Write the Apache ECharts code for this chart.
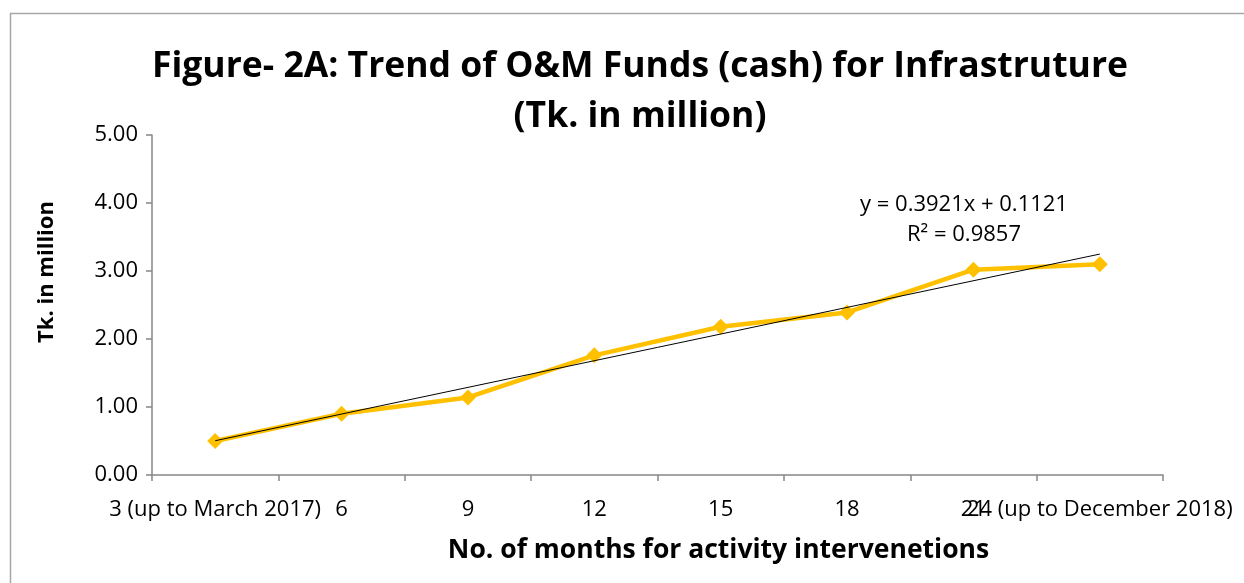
<!DOCTYPE html>
<html>
<head>
<meta charset="utf-8">
<script src="https://cdn.jsdelivr.net/npm/echarts@6/dist/echarts.min.js"></script>
<style>
  html, body { margin: 0; padding: 0; background: #fff; }
  #main { width: 1244px; height: 583px; }
</style>
</head>
<body>
<div id="main"></div>
<script>
// months since start of activity interventions
var categories = ['3 (up to March 2017)', '6', '9', '12', '15', '18', '21', '24 (up to December 2018)'];
// O&M funds (cash), Tk. in million
var funds = [0.50, 0.90, 1.14, 1.76, 2.18, 2.39, 3.02, 3.10];
var yTicks = [0, 1, 2, 3, 4, 5];
// linear trendline printed on the chart
var trendSlope = 0.3921;
var trendIntercept = 0.1121;
var trendR2 = 0.9857;

var FONT = 'Open Sans';
var chart = echarts.init(document.getElementById('main'));

// trendline end points at first and last category (x = 1..n)
var n = categories.length;
var trend = [
  [0, trendSlope * 1 + trendIntercept],
  [n - 1, trendSlope * n + trendIntercept]
];

chart.setOption({
  animation: false,
  textStyle: { fontFamily: FONT },
  title: {
    text: 'Figure- 2A: Trend of O&M Funds (cash) for Infrastruture\n(Tk. in million)',
    left: 635,
    textAlign: 'center',
    top: 37,
    textStyle: { fontFamily: FONT, fontSize: 35.5, fontWeight: 'bold', color: '#000', lineHeight: 50 }
  },
  graphic: [
    {
      type: 'rect',
      shape: { x: 10.5, y: 13.5, width: 1300, height: 700 },
      style: { fill: 'none', stroke: '#a6a6a6', lineWidth: 1.5 },
      silent: true
    },
    {
      type: 'text',
      x: 964, y: 190,
      style: {
        text: 'y = ' + trendSlope + 'x + ' + trendIntercept + '\nR² = ' + trendR2,
        font: '22px ' + FONT, fill: '#000', lineHeight: 30,
        align: 'center', verticalAlign: 'top'
      }
    }
  ],
  grid: { left: 152, right: 81, top: 135, bottom: 108, containLabel: false },
  xAxis: {
    type: 'category',
    data: categories,
    boundaryGap: true,
    name: 'No. of months for activity intervenetions',
    nameLocation: 'middle',
    nameGap: 62,
    nameTextStyle: { fontFamily: FONT, fontSize: 26.5, fontWeight: 'bold', color: '#000', padding: [0, 0, 0, 122] },
    axisLine: { lineStyle: { color: '#868686', width: 1.5 } },
    axisTick: { show: true, length: 6, alignWithLabel: false, lineStyle: { color: '#868686', width: 1.5 } },
    axisLabel: { interval: 0, margin: 24, fontSize: 22, color: '#000', fontFamily: FONT },
    splitLine: { show: false }
  },
  yAxis: {
    type: 'value',
    min: yTicks[0],
    max: yTicks[yTicks.length - 1],
    interval: 1,
    name: 'Tk. in million',
    nameLocation: 'middle',
    nameGap: 94,
    nameRotate: 90,
    nameTextStyle: { fontFamily: FONT, fontSize: 22, fontWeight: 'bold', color: '#000', padding: [0, 0, 0, 66] },
    axisLine: { show: true, lineStyle: { color: '#868686', width: 1.5 } },
    axisTick: { show: true, length: 6, lineStyle: { color: '#868686', width: 1.5 } },
    axisLabel: { margin: 14, fontSize: 22, color: '#000', fontFamily: FONT, formatter: function (v) { return v.toFixed(2); } },
    splitLine: { show: false }
  },
  series: [
    {
      name: 'Funds',
      type: 'line',
      data: funds,
      symbol: 'diamond',
      symbolSize: 16,
      itemStyle: { color: '#FFC000' },
      lineStyle: { color: '#FFC000', width: 4.5 },
      z: 2
    },
    {
      name: 'Linear trend',
      type: 'line',
      data: trend,
      symbol: 'none',
      lineStyle: { color: '#000', width: 1 },
      z: 3
    }
  ]
});

window.onresize = function () { chart.resize(); };
</script>
</body>
</html>
